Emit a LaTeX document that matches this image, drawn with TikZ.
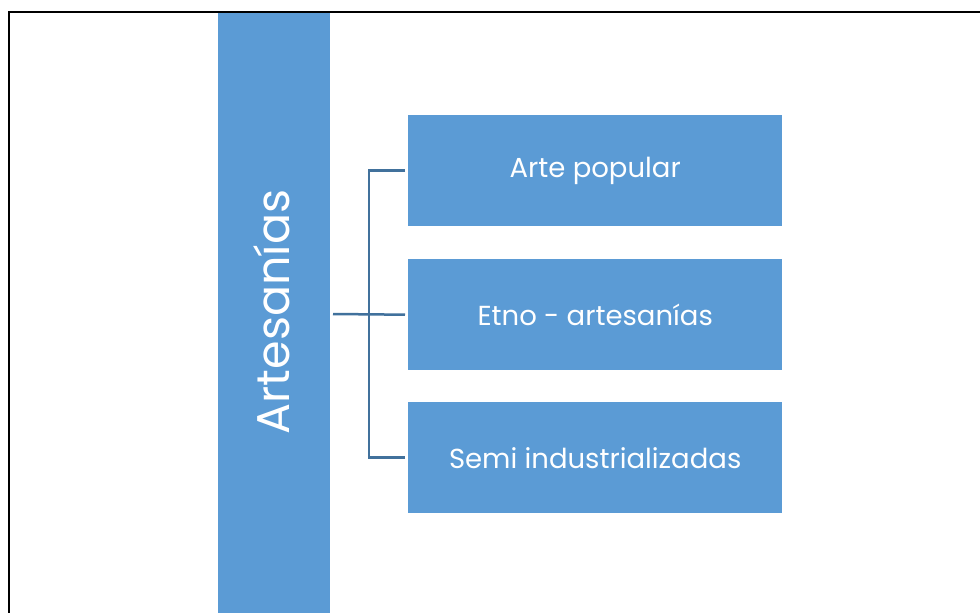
\documentclass[tikz,border=0pt]{standalone}
\usepackage{fontspec}
\setmainfont{Poppins}
\definecolor{boxblue}{HTML}{5B9BD5}
\definecolor{lineblue}{HTML}{41719C}
\begin{document}
\begin{tikzpicture}[x=1pt,y=-1pt,
  itembox/.style={fill=boxblue, draw=none, minimum width=374pt, minimum height=111pt, inner sep=0pt, text=white, font=\fontsize{27.5}{32}\selectfont},
  conn/.style={draw=lineblue, line width=2.5pt}]
\useasboundingbox (0,0) rectangle (980,613);
\fill[white] (0,0) rectangle (980,613);
\draw[line width=2pt] (9,613) -- (9,12) -- (980,12);
\node[fill=boxblue, minimum width=112pt, minimum height=601pt, inner sep=0pt, anchor=north west] (bar) at (218,13) {};
\node[rotate=90, text=white, font=\fontsize{46}{52}\selectfont] (bartext) at (272,312) {Artesanías};
\node[itembox, anchor=north west] (b1) at (408,115) {Arte popular};
\node[itembox, anchor=north west] (b2) at (408,259) {Etno - artesanías};
\node[itembox, anchor=north west] (b3) at (408,402) {Semi industrializadas};
\coordinate (j) at (369,314);
\coordinate (s) at (333,314);
\draw[conn] (s) -- ([xshift=-3pt]b2.west);
\draw[conn] ([xshift=-3pt]b1.west) -- (j |- b1.west) -- (j |- b3.west) -- ([xshift=-3pt]b3.west);
\end{tikzpicture}
\end{document}
